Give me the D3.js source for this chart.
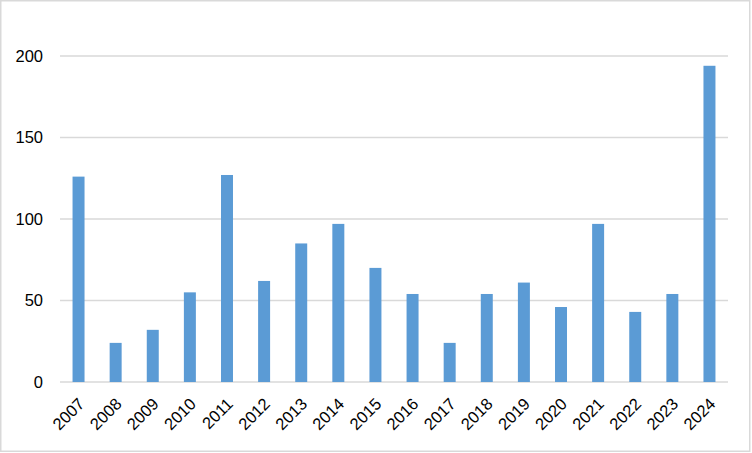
<!DOCTYPE html>
<html>
<head>
<meta charset="utf-8">
<script src="https://cdn.jsdelivr.net/npm/d3@7"></script>
<style>
  body { margin: 0; background: #fff; }
  text { font-family: "Liberation Sans", Arial, sans-serif; }
</style>
</head>
<body>
<div id="chart"></div>
<script>
// data
var years = ["2007", "2008", "2009", "2010", "2011", "2012", "2013", "2014", "2015",
             "2016", "2017", "2018", "2019", "2020", "2021", "2022", "2023", "2024"];
var counts = [126, 24, 32, 55, 127, 62, 85, 97, 70, 54, 24, 54, 61, 46, 97, 43, 54, 194];
var yTicks = [0, 50, 100, 150, 200];

var svgWidth = 752, svgHeight = 453;
var margin = {top: 56, right: 24, bottom: 71, left: 60};
var chartWidth = 728 - margin.left;
var chartHeight = 382 - margin.top;

var svg = d3.select("#chart")
  .append("svg")
  .attr("width", svgWidth)
  .attr("height", svgHeight);

// outer frame
svg.append("rect")
  .attr("x", 0.75).attr("y", 0.75)
  .attr("width", svgWidth - 3).attr("height", svgHeight - 2.5)
  .attr("fill", "#fff")
  .attr("stroke", "#d9d9d9")
  .attr("stroke-width", 1.5);

var g = svg.append("g")
  .attr("transform", "translate(" + margin.left + "," + margin.top + ")");

var x = d3.scaleBand()
  .domain(years)
  .range([0, chartWidth])
  .paddingInner(0.677)
  .paddingOuter(0.338);

var y = d3.scaleLinear()
  .domain([0, 200])
  .range([chartHeight, 0]);

// gridlines
g.selectAll("line.grid")
  .data(yTicks)
  .enter()
  .append("line")
  .attr("class", "grid")
  .attr("x1", 0)
  .attr("x2", chartWidth)
  .attr("y1", d => y(d))
  .attr("y2", d => y(d))
  .attr("stroke", "#d9d9d9")
  .attr("stroke-width", 1.5);

// y labels
var yAxis = g.append("g")
  .call(d3.axisLeft(y).tickValues(yTicks).tickSize(0).tickPadding(17));
yAxis.select(".domain").remove();
yAxis.selectAll("text")
  .attr("font-size", 16.5)
  .attr("font-family", "Liberation Sans, Arial, sans-serif")
  .attr("fill", "#000");

// bars
g.selectAll("rect.bar")
  .data(counts)
  .enter()
  .append("rect")
  .attr("class", "bar")
  .attr("x", (d, i) => x(years[i]))
  .attr("y", d => y(d))
  .attr("width", x.bandwidth())
  .attr("height", d => chartHeight - y(d))
  .attr("fill", "#5b9bd5");

// x labels, rotated
var xAxis = g.append("g")
  .attr("transform", "translate(0," + chartHeight + ")")
  .call(d3.axisBottom(x).tickSize(0).tickPadding(0));
xAxis.select(".domain").remove();
xAxis.selectAll("text")
  .attr("font-size", 16.5)
  .attr("font-family", "Liberation Sans, Arial, sans-serif")
  .attr("fill", "#000")
  .attr("text-anchor", "end")
  .attr("dy", null)
  .attr("y", 0)
  .attr("transform", "translate(7,23) rotate(-45)");
</script>
</body>
</html>
